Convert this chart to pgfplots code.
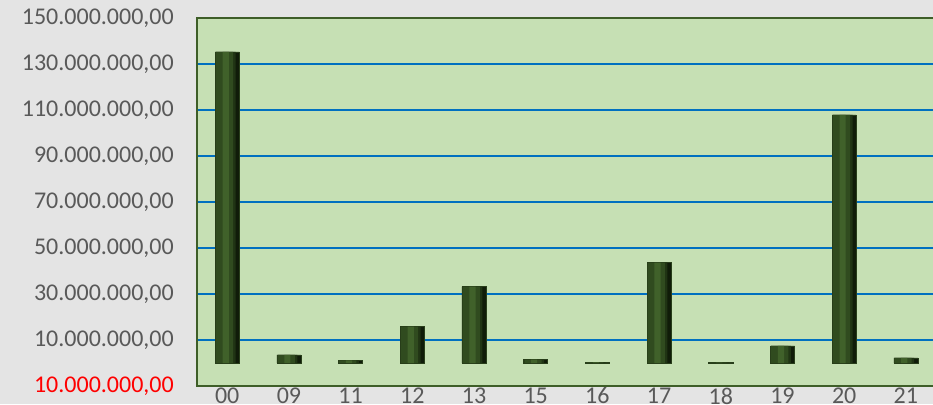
\documentclass[border=0pt]{standalone}
\usepackage{fontspec}
\setmainfont{Carlito}
\usepackage{pgfplots}
\pgfplotsset{compat=1.18}
\definecolor{pagegray}{RGB}{228,228,228}
\definecolor{plotgreen}{RGB}{198,224,180}
\definecolor{framegreen}{RGB}{62,94,40}
\definecolor{gridblue}{RGB}{0,112,192}
\definecolor{labelgray}{RGB}{89,89,89}
\definecolor{barleft}{RGB}{48,75,31}
\definecolor{barmid}{RGB}{64,97,42}
\definecolor{barshade}{RGB}{32,52,20}
\definecolor{barright}{RGB}{16,28,9}
\definecolor{baredge}{RGB}{40,62,26}

\pgfplotstableread{
x  y
0  135300000
1  3500000
2  1100000
3  15800000
4  33200000
5  1500000
6  300000
7  43600000
8  150000
9  7400000
10 107900000
11 2200000
}\bars

\begin{document}
\begin{tikzpicture}
\clip (0,0) rectangle (933pt,404pt);
\fill[pagegray] (0,0) rectangle (933pt,404pt);
\begin{axis}[
  at={(197pt,18pt)}, anchor=south west,
  scale only axis, width=736pt, height=368pt,
  xmin=-0.49, xmax=11.44,
  ymin=-10000000, ymax=150000000,
  scaled y ticks=false,
  axis background/.style={fill=plotgreen},
  axis line style={draw=none},
  ymajorgrids,
  grid style={gridblue, line width=2pt},
  tick style={draw=none},
  xtick={0,1,2,3,4,5,6,7,8,9,10,11},
  xticklabels={00,09,11,12,13,15,16,17,18,19,20,21},
  ytick={-10000000,10000000,30000000,50000000,70000000,90000000,110000000,130000000,150000000},
  yticklabels={{\textcolor{red}{10.000.000,00}},{10.000.000,00},{30.000.000,00},{50.000.000,00},{70.000.000,00},{90.000.000,00},{110.000.000,00},{130.000.000,00},{150.000.000,00}},
  tick label style={font=\fontsize{24}{28}\selectfont, text=labelgray, inner sep=0pt},
  yticklabel style={anchor=east, xshift=-23pt},
  xticklabel style={anchor=north, yshift=-1.5pt},
]
% dark body, then lighter strips to mimic the bevelled look
\addplot[ybar, bar width=0.39, bar shift=0, draw=baredge, line width=0.6pt, fill=barright]
  table[x=x, y=y] {\bars};
\addplot[ybar, bar width=0.32, bar shift=-0.025, draw=none, fill=barshade]
  table[x=x, y=y] {\bars};
\addplot[ybar, bar width=0.28, bar shift=-0.045, draw=none, fill=barleft]
  table[x=x, y=y] {\bars};
\addplot[ybar, bar width=0.10, bar shift=-0.025, draw=none, fill=barmid]
  table[x=x, y=y] {\bars};
\end{axis}
\draw[framegreen, line width=2.2pt] (940pt,386pt) -- (197pt,386pt) -- (197pt,18pt) -- (940pt,18pt);
\end{tikzpicture}
\end{document}
